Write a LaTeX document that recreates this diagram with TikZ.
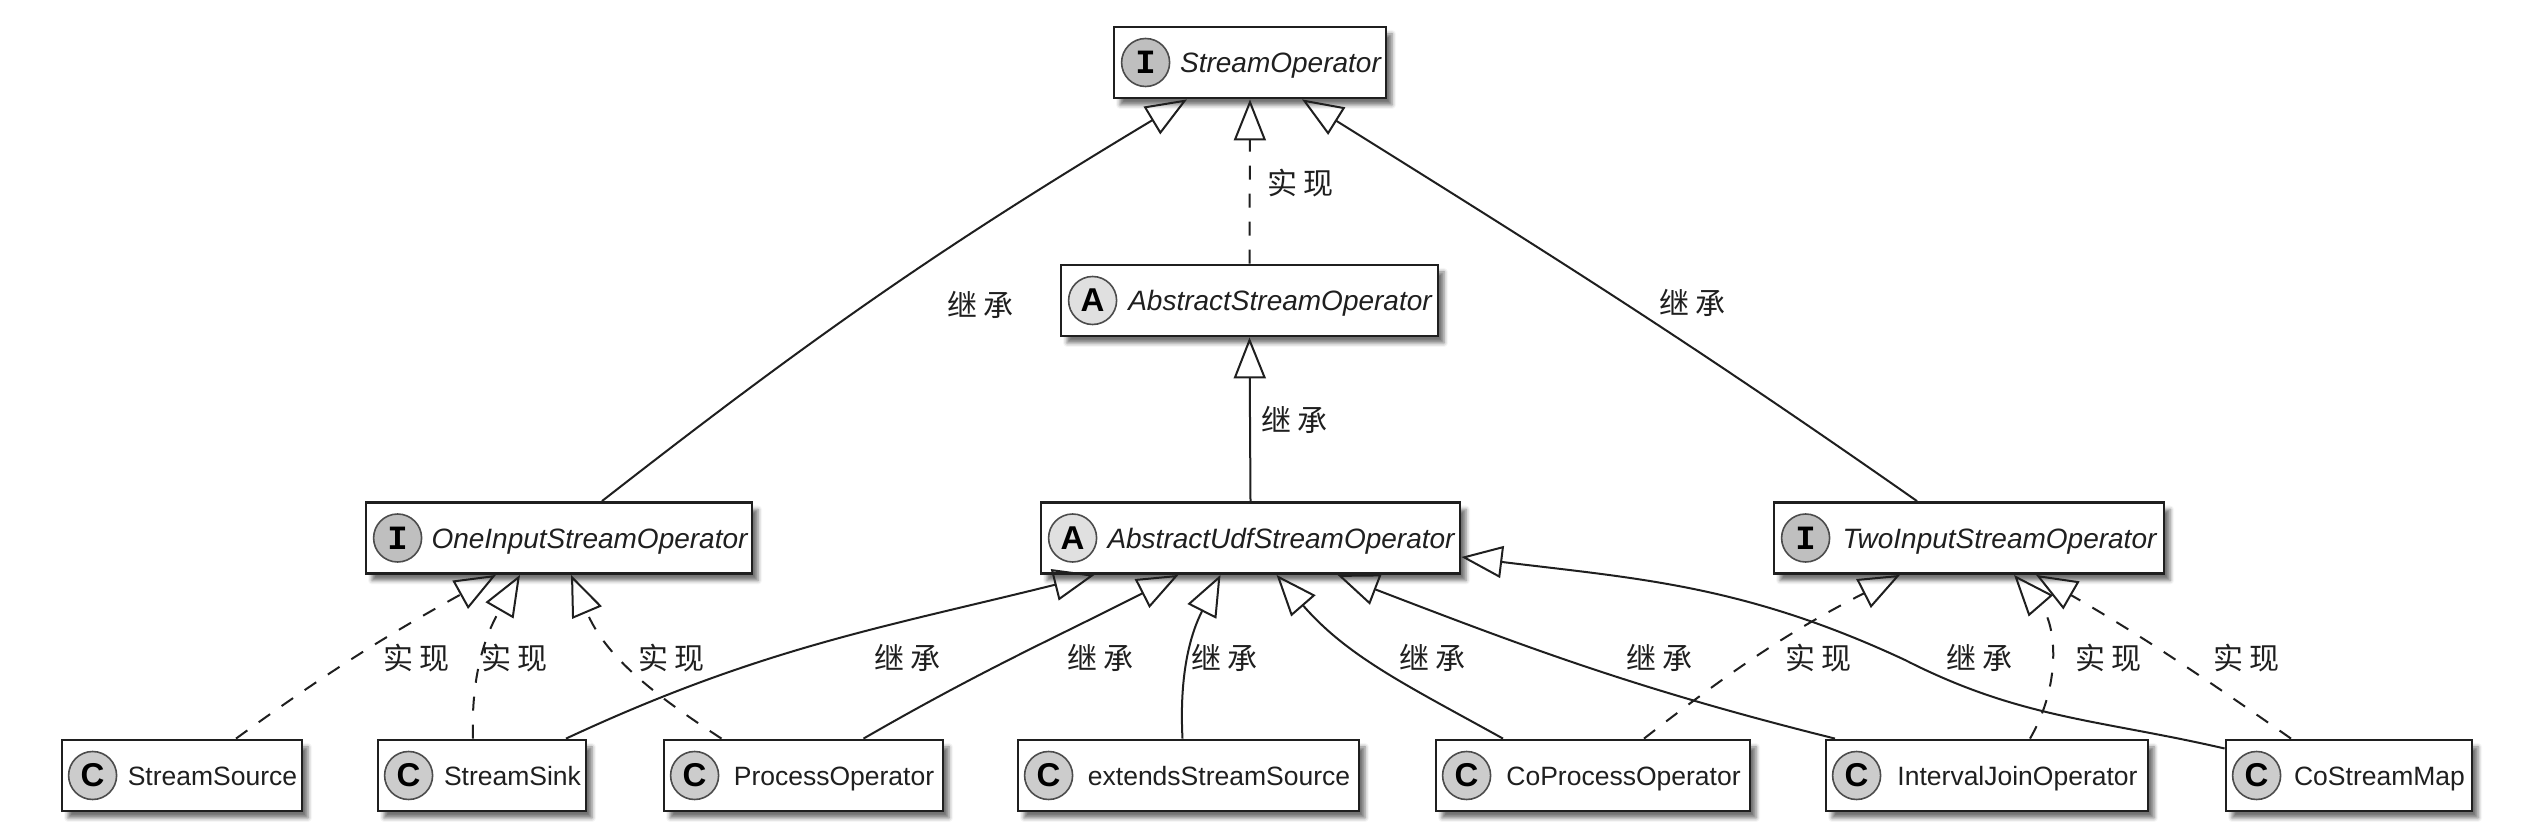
\documentclass[tikz,border=0pt]{standalone}
\usepackage{fontspec}
\setmainfont{Liberation Sans}
\setmonofont{Liberation Mono}
\newfontfamily\cjk[LetterSpace=20]{Noto Sans CJK SC}
\usetikzlibrary{arrows.meta,shadows,shadows.blur}
\colorlet{inkc}{black!88}
\tikzset{
  classbox/.style={draw=inkc, line width=2.8pt, fill=white, text=inkc, minimum width=#1, minimum height=71pt,
    inner xsep=0pt, inner ysep=0pt, text height=24pt, text depth=3pt, font=\fontsize{26.5}{30}\selectfont,
    execute at begin node={\hspace*{61pt}},
    blur shadow={shadow xshift=6pt, shadow yshift=-7pt, shadow blur radius=4pt, shadow opacity=55}},
  absbox/.style={classbox=#1, font=\fontsize{28}{30}\selectfont\itshape},
  badge/.style={circle, draw=black!70, line width=1.6pt, fill=#1, text=black, minimum size=48pt, inner sep=0pt,
    font=\fontsize{33}{33}\selectfont\bfseries},
  ibadge/.style={badge=#1, font=\fontsize{34}{34}\selectfont\ttfamily\bfseries},
  edgelabel/.style={text=inkc, inner sep=0pt, font=\fontsize{30}{32}\selectfont\cjk},
  extline/.style={draw=inkc, line width=2pt, -{Triangle[open, length=41pt, width=32pt, line width=2pt]}},
  implline/.style={extline, dash pattern=on 14pt off 14pt}
}
\begin{document}
\begin{tikzpicture}[x=1pt, y=1pt]
            \useasboundingbox(0,0)rectangle(2544,838);
            % interfaces and abstract classes
            \node[absbox=272pt](so)at(1250,775.5){StreamOperator};
            \node[absbox=377pt](aso)at(1249.5,537.5){AbstractStreamOperator};
            \node[absbox=386pt](oiso)at(559,300){OneInputStreamOperator};
            \node[absbox=419pt](aud)at(1250.5,300){AbstractUdfStreamOperator};
            \node[absbox=390pt](tiso)at(1969,300){TwoInputStreamOperator};
            % classes
            \node[classbox=240pt](ssrc)at(182,62.5){StreamSource};
            \node[classbox=208pt](ssink)at(482,62.5){StreamSink};
            \node[classbox=279pt](pop)at(803.5,62.5){ProcessOperator};
            \node[classbox=341pt](esrc)at(1188.5,62.5){extendsStreamSource};
            \node[classbox=314pt](cop)at(1593,62.5){CoProcessOperator};
            \node[classbox=322pt](ijo)at(1987,62.5){IntervalJoinOperator};
            \node[classbox=246pt](csm)at(2349,62.5){CoStreamMap};
            % badges
            \node[ibadge=black!25](sob)at([xshift=33pt]so.west){I};
            \node[badge=black!12](asob)at([xshift=33pt]aso.west){A};
            \node[ibadge=black!25](oisob)at([xshift=33pt]oiso.west){I};
            \node[badge=black!12](audb)at([xshift=33pt]aud.west){A};
            \node[ibadge=black!25](tisob)at([xshift=33pt]tiso.west){I};
            \node[badge=black!20](ssrcb)at([xshift=32pt]ssrc.west){C};
            \node[badge=black!20](ssinkb)at([xshift=32pt]ssink.west){C};
            \node[badge=black!20](popb)at([xshift=32pt]pop.west){C};
            \node[badge=black!20](esrcb)at([xshift=32pt]esrc.west){C};
            \node[badge=black!20](copb)at([xshift=32pt]cop.west){C};
            \node[badge=black!20](ijob)at([xshift=32pt]ijo.west){C};
            \node[badge=black!20](csmb)at([xshift=32pt]csm.west){C};
            % top
            \path[extline]([xshift=43pt]oiso.north)to[out=38,in=211]([xshift=-63pt]so.south);
            \path[implline](aso.north)to(so.south);
            \path[extline]([xshift=-52pt]tiso.north)to[out=145,in=328]([xshift=52pt]so.south);
            \path[extline](aud.north)to(aso.south);
            % OneInputStreamOperator
            \path[implline]([xshift=54pt]ssrc.north)to[out=36,in=209]([xshift=-63pt]oiso.south);
            \path[implline]([xshift=-9pt]ssink.north)to[out=92,in=240]([xshift=-39pt]oiso.south);
            \path[implline]([xshift=-82pt]pop.north)to[out=147,in=293]([xshift=12pt]oiso.south);
            % AbstractUdfStreamOperator
            \path[extline]([xshift=84pt]ssink.north)to[out=25,in=194]([xshift=-156pt]aud.south);
            \path[extline]([xshift=60pt]pop.north)to[out=30,in=207]([xshift=-72pt]aud.south);
            \path[extline]([xshift=-6pt]esrc.north)to[out=93,in=243]([xshift=-30pt]aud.south);
            \path[extline]([xshift=-90pt]cop.north)to[out=151,in=311]([xshift=26pt]aud.south);
            \path[extline]([xshift=-152pt]ijo.north)to[out=166,in=339]([xshift=87pt]aud.south);
            \coordinate(csmw)at(1905,178);
            \path[extline]([yshift=27pt]csm.west)to[out=167,in=333](csmw)to[out=155,in=353]([yshift=-19pt]aud.east);
            % TwoInputStreamOperator
            \path[implline]([xshift=51pt]cop.north)to[out=38,in=207]([xshift=-69pt]tiso.south);
            \path[implline]([xshift=43pt]ijo.north)to[out=60,in=311]([xshift=45pt]tiso.south);
            \path[implline]([xshift=-58pt]csm.north)to[out=145,in=330]([xshift=67pt]tiso.south);
            % labels
            \node[edgelabel](lsoa)at(980,533){继承};
            \node[edgelabel](lsob)at(1300,655){实现};
            \node[edgelabel](lsoc)at(1692,535){继承};
            \node[edgelabel](lasoa)at(1294,418){继承};
            \node[edgelabel](loa)at(416,180){实现};
            \node[edgelabel](lob)at(514,180){实现};
            \node[edgelabel](loc)at(671,180){实现};
            \node[edgelabel](lua)at(907,180){继承};
            \node[edgelabel](lub)at(1100,180){继承};
            \node[edgelabel](luc)at(1224,180){继承};
            \node[edgelabel](lud)at(1432,180){继承};
            \node[edgelabel](lue)at(1659,180){继承};
            \node[edgelabel](lta)at(1818,180){实现};
            \node[edgelabel](luf)at(1979,180){继承};
            \node[edgelabel](ltb)at(2108,180){实现};
            \node[edgelabel](ltc)at(2246,180){实现};
        \end{tikzpicture}
\end{document}
